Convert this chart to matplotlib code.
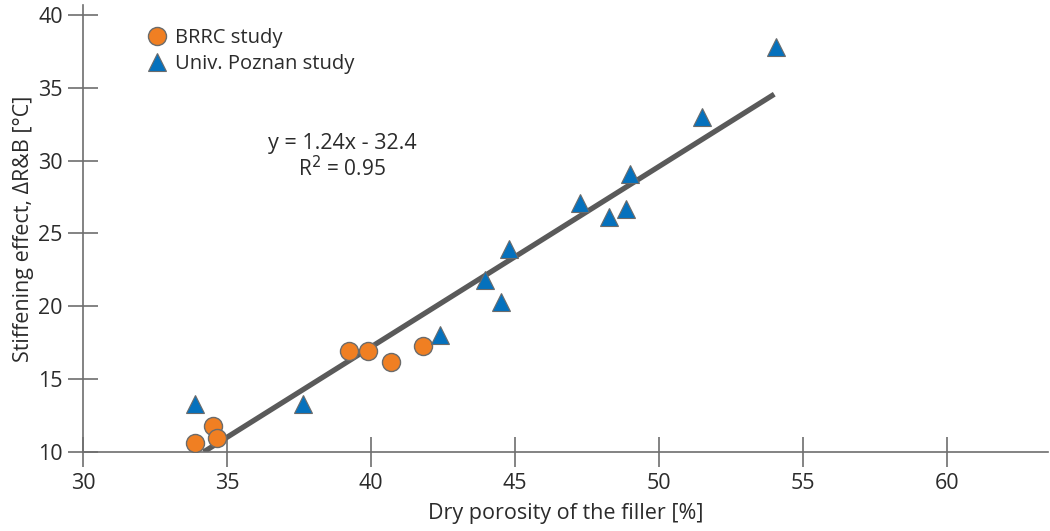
import matplotlib
matplotlib.use("Agg")
import matplotlib.pyplot as plt
import numpy as np

plt.rcParams['font.family'] = ['Open Sans', 'DejaVu Sans']

# BRRC study
brrc_x = [33.9, 34.5, 34.65, 39.25, 39.9, 40.7, 41.8]
brrc_y = [10.6, 11.8, 10.95, 16.9, 16.9, 16.2, 17.3]

# Univ. Poznan study
poz_x = [33.9, 37.65, 42.4, 43.95, 44.5, 44.8, 47.25, 48.25, 48.85, 49.0, 51.5, 54.05]
poz_y = [13.3, 13.3, 18.0, 21.8, 20.3, 23.9, 27.1, 26.1, 26.7, 29.1, 33.0, 37.8]

# Linear fit
slope, intercept = 1.24, -32.4
fit_x = [34.19, 54.0]

x_ticks = [30, 35, 40, 45, 50, 55, 60]
y_ticks = [10, 15, 20, 25, 30, 35, 40]

orange = '#F07F22'
blue = '#0571BD'
edge = '#6b6b6b'
text_col = '#2b2b2b'
axis_col = '#6e6e6e'

fig = plt.figure(figsize=(10.5, 5.31), dpi=100)
ax = fig.add_axes([0.079, 0.149, 0.919, 0.842])

fx = np.array(fit_x)
ax.plot(fx, slope * fx + intercept, color='#5a5a5a', lw=3.8, solid_capstyle='butt', zorder=2)

ax.plot(brrc_x, brrc_y, 'o', ms=13, mfc=orange, mec=edge, mew=1.0,
        label='BRRC study', zorder=3, linestyle='none')
ax.plot(poz_x, poz_y, '^', ms=13.5, mfc=blue, mec=edge, mew=0.8,
        label='Univ. Poznan study', zorder=3, linestyle='none')

ax.set_xlim(30, 63.5)
ax.set_ylim(10, 40.7)
ax.set_xticks(x_ticks)
ax.set_yticks(y_ticks)

for s in ['top', 'right']:
    ax.spines[s].set_visible(False)
for s in ['left', 'bottom']:
    ax.spines[s].set_color(axis_col)
    ax.spines[s].set_linewidth(1.2)

ax.tick_params(axis='both', direction='inout', length=21, width=1.2,
               color=axis_col, labelcolor=text_col, labelsize=15.5)
ax.tick_params(axis='y', pad=4)
ax.tick_params(axis='x', pad=5)

ax.set_xlabel('Dry porosity of the filler [%]', fontsize=15.5, color=text_col, labelpad=6)
ax.set_ylabel('Stiffening effect, ΔR&B [°C]', fontsize=15.5, color=text_col, labelpad=3)

ax.text(39.0, 31.2, 'y = 1.24x - 32.4', ha='center', va='center', fontsize=15.5, color=text_col)
ax.text(39.0, 29.45, 'R$^{2}$ = 0.95', ha='center', va='center', fontsize=15, color=text_col)

leg = ax.legend(loc='upper left', bbox_to_anchor=(0.052, 0.975), frameon=False,
                fontsize=14.5, handletextpad=0.3, labelspacing=0.3,
                handlelength=1.2, borderaxespad=0.2)
for t in leg.get_texts():
    t.set_color(text_col)

fig.savefig('out.png', dpi=100)
